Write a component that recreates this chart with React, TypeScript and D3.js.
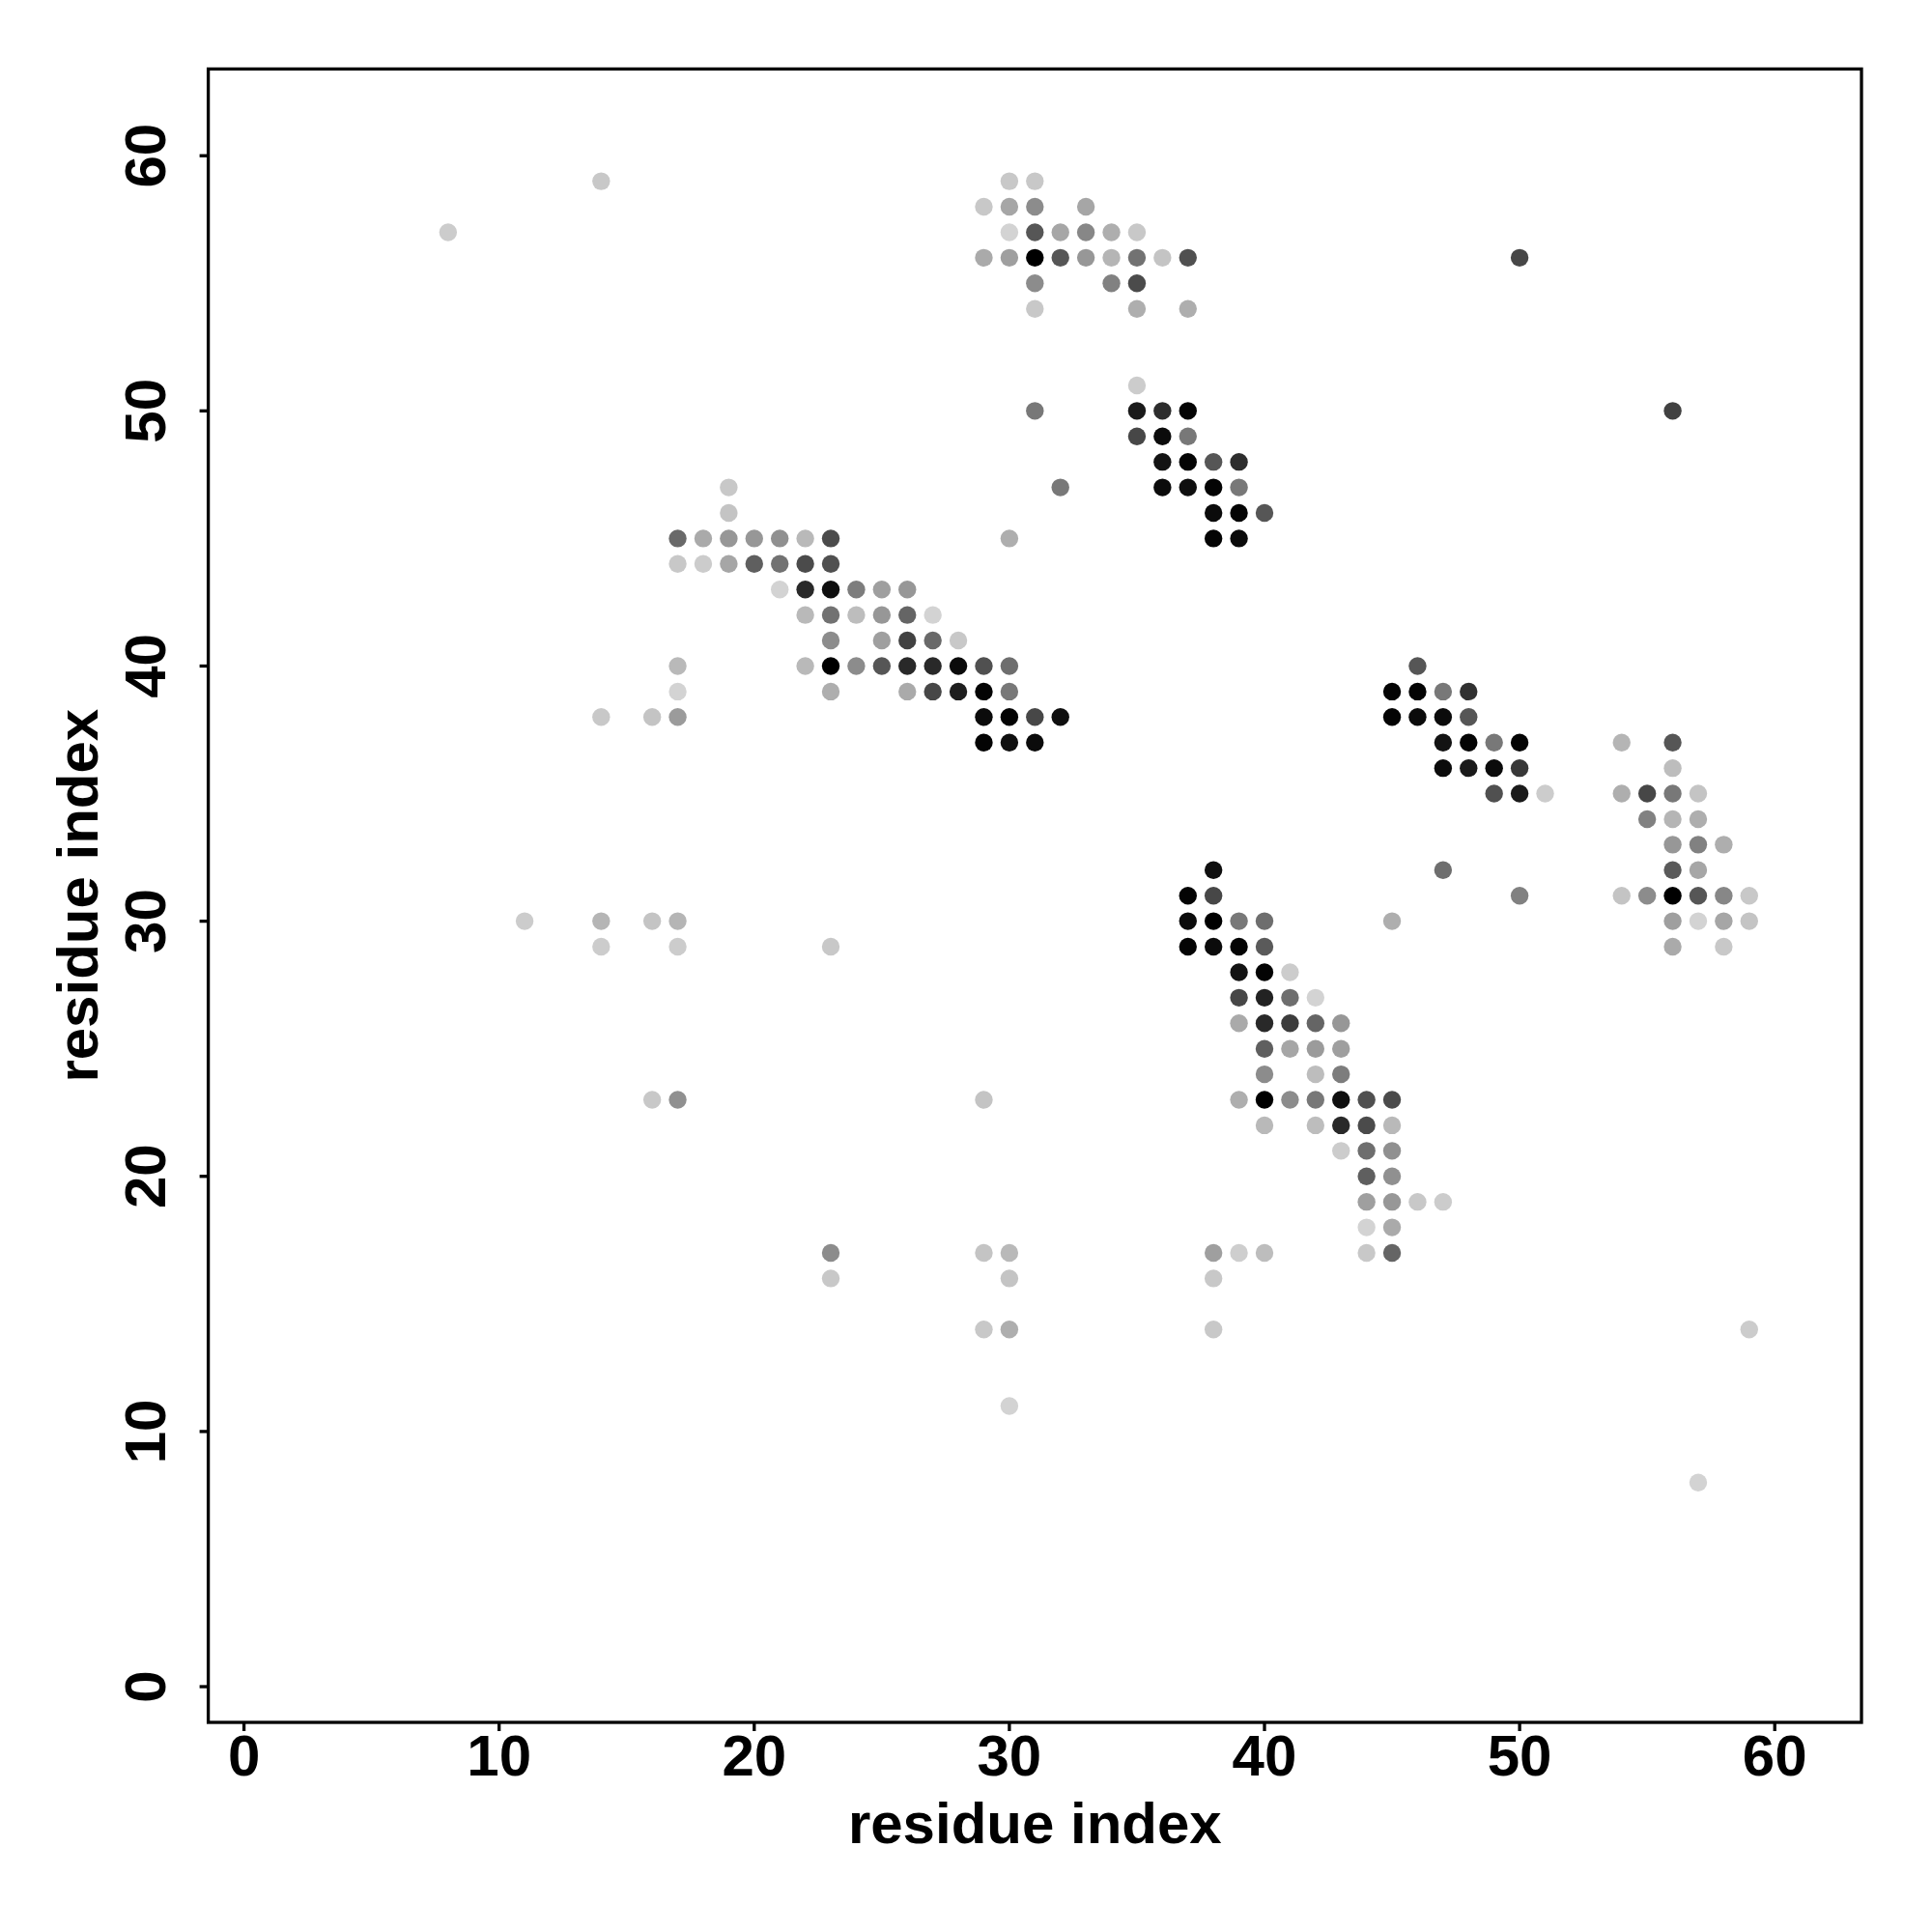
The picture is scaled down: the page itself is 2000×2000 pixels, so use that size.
import React from "react";
import * as d3 from "d3";

// contacts: [residue i, residue j, probability]
const clusterTop: [number, number, number][] = [
  [30, 59, 0.07], [31, 59, 0.07],
  [29, 58, 0.07], [30, 58, 0.23], [31, 58, 0.35], [33, 58, 0.23],
  [30, 57, 0.02], [31, 57, 0.6], [32, 57, 0.23], [33, 57, 0.37], [34, 57, 0.19], [35, 57, 0.07],
  [29, 56, 0.21], [30, 56, 0.26], [31, 56, 1.0], [32, 56, 0.6], [33, 56, 0.3], [34, 56, 0.16], [35, 56, 0.47], [36, 56, 0.09], [37, 56, 0.63],
  [31, 55, 0.35], [34, 55, 0.4], [35, 55, 0.65],
  [31, 54, 0.07], [35, 54, 0.19], [37, 54, 0.19],
];

const clusterMid: [number, number, number][] = [
  [35, 51, 0.05],
  [35, 50, 0.88], [36, 50, 0.79], [37, 50, 0.98],
  [35, 49, 0.67], [36, 49, 0.95], [37, 49, 0.44],
  [36, 48, 0.91], [37, 48, 0.98], [38, 48, 0.6], [39, 48, 0.79],
  [36, 47, 0.95], [37, 47, 0.93], [38, 47, 0.98], [39, 47, 0.44],
  [38, 46, 0.95], [39, 46, 0.98], [40, 46, 0.6],
  [38, 45, 0.98], [39, 45, 0.95],
];

const clusterLeft: [number, number, number][] = [
  [19, 47, 0.07], [32, 47, 0.44],
  [19, 46, 0.09],
  [17, 45, 0.51], [18, 45, 0.21], [19, 45, 0.3], [20, 45, 0.3], [21, 45, 0.33], [22, 45, 0.14], [23, 45, 0.65], [30, 45, 0.19],
  [17, 44, 0.07], [18, 44, 0.05], [19, 44, 0.23], [20, 44, 0.56], [21, 44, 0.47], [22, 44, 0.65], [23, 44, 0.63],
  [21, 43, 0.02], [22, 43, 0.81], [23, 43, 0.93], [24, 43, 0.42], [25, 43, 0.26], [26, 43, 0.3],
  [22, 42, 0.14], [23, 42, 0.47], [24, 42, 0.12], [25, 42, 0.3], [26, 42, 0.53], [27, 42, 0.02],
  [23, 41, 0.35], [25, 41, 0.26], [26, 41, 0.7], [27, 41, 0.51], [28, 41, 0.07],
  [17, 40, 0.14], [22, 40, 0.14], [23, 40, 1.0], [24, 40, 0.35], [25, 40, 0.6], [26, 40, 0.81], [27, 40, 0.81], [28, 40, 0.95], [29, 40, 0.63], [30, 40, 0.49],
  [17, 39, 0.02], [23, 39, 0.19], [26, 39, 0.21], [27, 39, 0.67], [28, 39, 0.86], [29, 39, 0.98], [30, 39, 0.44],
  [17, 38, 0.28], [29, 38, 0.95], [30, 38, 0.98], [31, 38, 0.67], [32, 38, 0.93],
  [29, 37, 0.98], [30, 37, 0.93], [31, 37, 0.95],
];

const clusterRight: [number, number, number][] = [
  [46, 40, 0.6],
  [45, 39, 0.98], [46, 39, 0.98], [47, 39, 0.44], [48, 39, 0.77],
  [45, 38, 0.98], [46, 38, 0.95], [47, 38, 0.95], [48, 38, 0.6],
  [47, 37, 0.91], [48, 37, 0.98], [49, 37, 0.44], [50, 37, 0.98],
  [47, 36, 0.95], [48, 36, 0.88], [49, 36, 0.95], [50, 36, 0.74],
  [49, 35, 0.63], [50, 35, 0.88], [51, 35, 0.05],
];

const clusterFarRight: [number, number, number][] = [
  [54, 37, 0.16], [56, 37, 0.6],
  [56, 36, 0.12],
  [54, 35, 0.19], [55, 35, 0.67], [56, 35, 0.44], [57, 35, 0.09],
  [55, 34, 0.4], [56, 34, 0.16], [57, 34, 0.19],
  [56, 33, 0.3], [57, 33, 0.4], [58, 33, 0.19],
  [56, 32, 0.58], [57, 32, 0.23],
  [54, 31, 0.09], [55, 31, 0.35], [56, 31, 1.0], [57, 31, 0.6], [58, 31, 0.37], [59, 31, 0.07],
  [56, 30, 0.26], [57, 30, 0.02], [58, 30, 0.23], [59, 30, 0.09],
  [56, 29, 0.21], [58, 29, 0.07],
];

const clusterLower: [number, number, number][] = [
  [38, 32, 0.93],
  [37, 31, 0.98], [38, 31, 0.67],
  [37, 30, 0.95], [38, 30, 1.0], [39, 30, 0.44], [40, 30, 0.49], [45, 30, 0.19],
  [37, 29, 0.98], [38, 29, 0.95], [39, 29, 0.98], [40, 29, 0.58],
  [39, 28, 0.91], [40, 28, 0.98], [41, 28, 0.05],
  [39, 27, 0.67], [40, 27, 0.84], [41, 27, 0.49], [42, 27, 0.02],
  [39, 26, 0.21], [40, 26, 0.81], [41, 26, 0.72], [42, 26, 0.53], [43, 26, 0.3],
  [40, 25, 0.56], [41, 25, 0.23], [42, 25, 0.28], [43, 25, 0.26],
  [40, 24, 0.35], [42, 24, 0.12], [43, 24, 0.42],
  [39, 23, 0.19], [40, 23, 1.0], [41, 23, 0.35], [42, 23, 0.44], [43, 23, 0.93], [44, 23, 0.63], [45, 23, 0.65],
  [40, 22, 0.14], [42, 22, 0.12], [43, 22, 0.81], [44, 22, 0.65], [45, 22, 0.14],
  [43, 21, 0.05], [44, 21, 0.49], [45, 21, 0.33],
  [44, 20, 0.56], [45, 20, 0.33],
  [44, 19, 0.26], [45, 19, 0.3], [46, 19, 0.07], [47, 19, 0.05],
  [44, 18, 0.02], [45, 18, 0.21],
  [38, 17, 0.26], [39, 17, 0.04], [40, 17, 0.12], [44, 17, 0.07], [45, 17, 0.53],
];

const scattered: [number, number, number][] = [
  [8, 57, 0.05], [14, 59, 0.07],
  [14, 38, 0.07], [16, 38, 0.09],
  [11, 30, 0.05], [14, 30, 0.16], [16, 30, 0.09], [17, 30, 0.16], [14, 29, 0.05], [17, 29, 0.05],
  [16, 23, 0.07], [17, 23, 0.33],
  [23, 29, 0.07], [23, 17, 0.35], [23, 16, 0.07],
  [29, 23, 0.09], [29, 17, 0.09], [30, 17, 0.14], [30, 16, 0.09], [29, 14, 0.07], [30, 14, 0.19], [30, 11, 0.02],
  [31, 50, 0.44],
  [38, 16, 0.07], [38, 14, 0.07],
  [50, 56, 0.67], [56, 50, 0.7],
  [47, 32, 0.49], [50, 31, 0.4],
  [59, 14, 0.05], [57, 8, 0.02],
];

const xTicks = [0, 10, 20, 30, 40, 50, 60];
const yTicks = [0, 10, 20, 30, 40, 50, 60];
const xLabel = "residue index";
const yLabel = "residue index";

export default function App() {
  const left = 215.6, right = 1927, top = 71.4, bottom = 1783;
  const x = d3.scaleLinear().domain([-1.4, 63.4]).range([left, right]);
  const y = d3.scaleLinear().domain([-1.4, 63.4]).range([bottom, top]);
  const color = d3.scaleLinear<string>().domain([0, 1]).range(["#d7d7d7", "#000000"]);
  const all = [
    ...scattered,
    ...clusterTop,
    ...clusterMid,
    ...clusterLeft,
    ...clusterRight,
    ...clusterFarRight,
    ...clusterLower,
  ];
  const font = "'Liberation Sans', Arial, Helvetica, sans-serif";
  const sw = 3.3;
  return (
    <svg
      width={2000}
      height={2000}
      style={{ position: "absolute", left: 0, top: 0, background: "#fff" }}
    >
      <rect x={0} y={0} width={2000} height={2000} fill="#fff" />
      {all.map((d, i) => (
        <circle key={i} cx={x(d[0])} cy={y(d[1])} r={9.2} fill={color(d[2])} />
      ))}
      <rect
        x={left}
        y={top}
        width={right - left}
        height={bottom - top}
        fill="none"
        stroke="#000"
        strokeWidth={sw}
      />
      {xTicks.map((t) => (
        <g key={"x" + t}>
          <line x1={x(t)} x2={x(t)} y1={bottom} y2={bottom + 9} stroke="#000" strokeWidth={sw} />
          <text
            x={x(t)}
            y={1838}
            textAnchor="middle"
            fontFamily={font}
            fontWeight="bold"
            fontSize={60}
          >
            {t}
          </text>
        </g>
      ))}
      {yTicks.map((t) => (
        <g key={"y" + t}>
          <line x1={left - 9} x2={left} y1={y(t)} y2={y(t)} stroke="#000" strokeWidth={sw} />
          <text
            transform={`translate(171,${y(t)}) rotate(-90)`}
            textAnchor="middle"
            fontFamily={font}
            fontWeight="bold"
            fontSize={60}
          >
            {t}
          </text>
        </g>
      ))}
      <text
        x={(left + right) / 2}
        y={1908}
        textAnchor="middle"
        fontFamily={font}
        fontWeight="bold"
        fontSize={60}
      >
        {xLabel}
      </text>
      <text
        transform={`translate(101,${(top + bottom) / 2}) rotate(-90)`}
        textAnchor="middle"
        fontFamily={font}
        fontWeight="bold"
        fontSize={60}
      >
        {yLabel}
      </text>
    </svg>
  );
}
